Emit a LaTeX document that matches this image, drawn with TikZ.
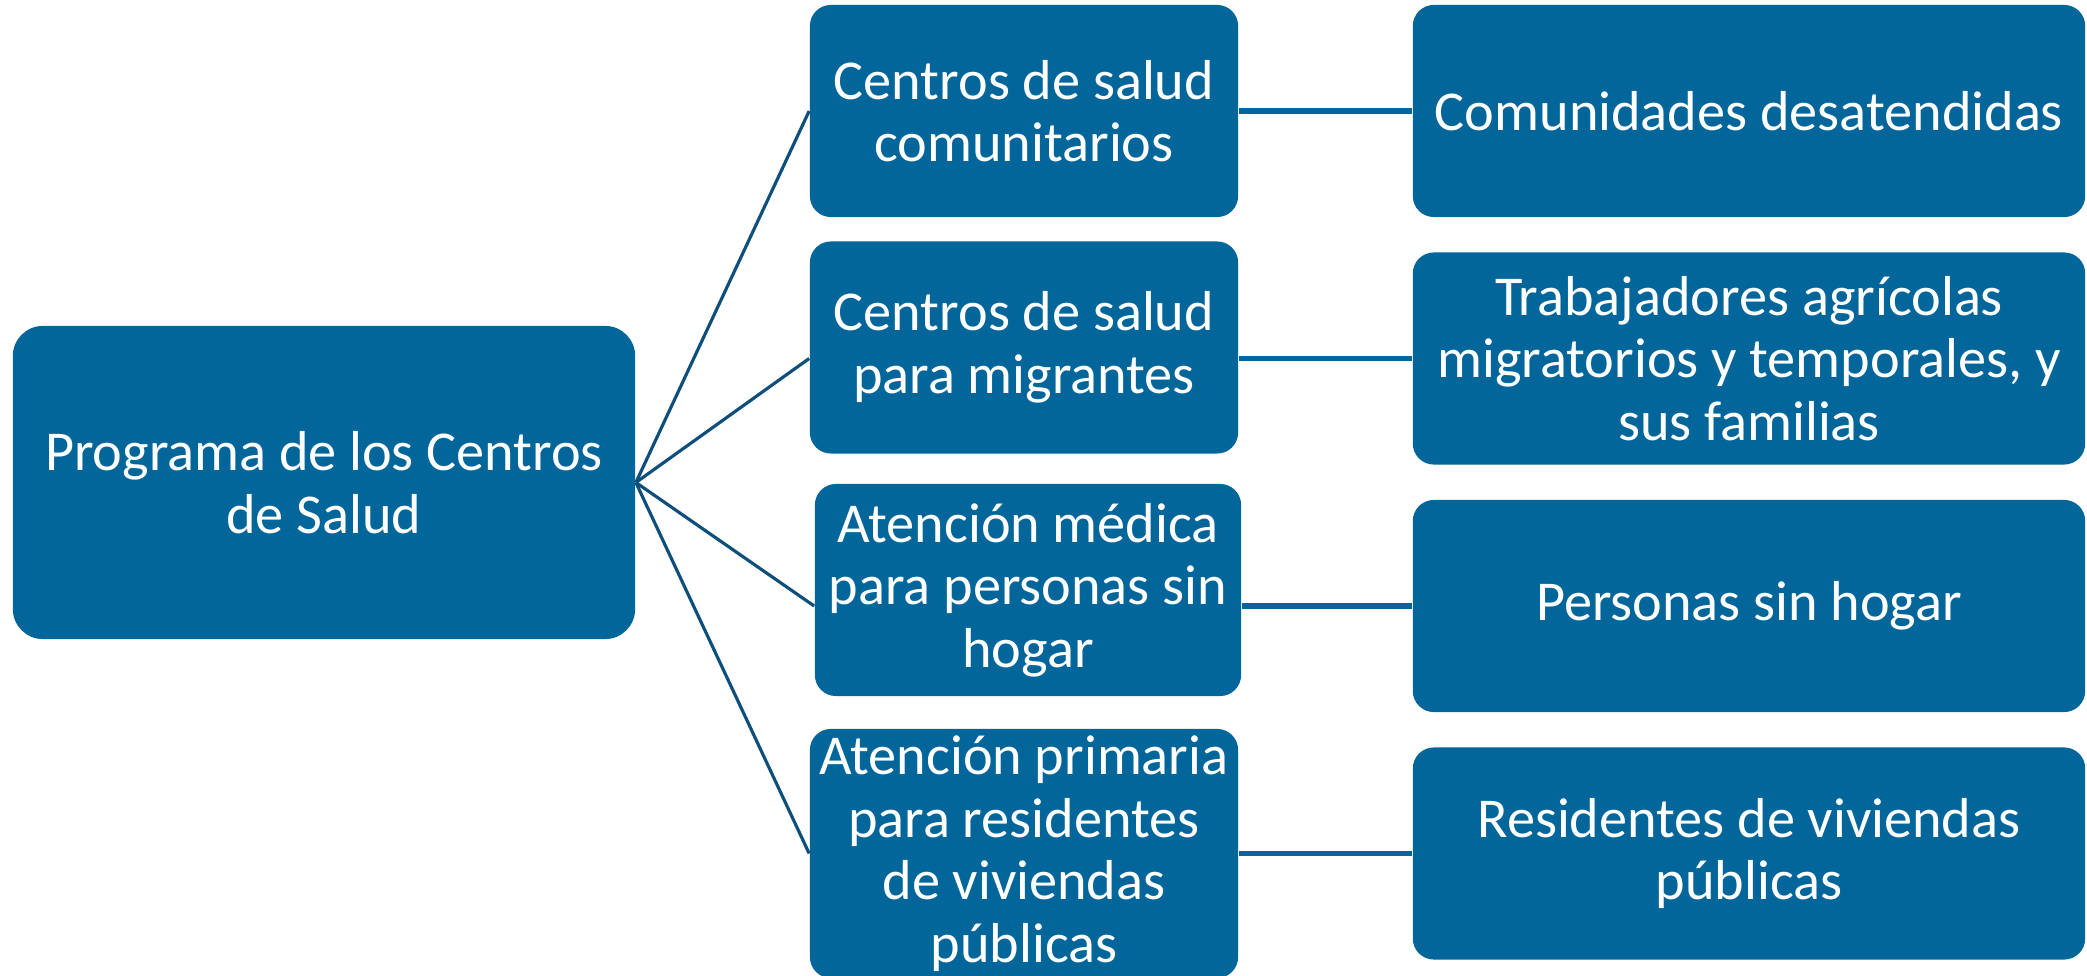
\documentclass[tikz,border=0pt]{standalone}
\usepackage{fontspec}
\setmainfont{Carlito}
\definecolor{boxblue}{RGB}{2,102,154}
\definecolor{linkblue}{RGB}{14,78,122}

\begin{document}
\begin{tikzpicture}
[x=0.01cm,y=-0.01cm,%
  box/.style={shape=rectangle,fill=boxblue,text=white,align=center,
    font=\fontsize{16pt}{17.8pt}\selectfont,inner sep=0pt,rounded corners=0.21cm},%
  midbox/.style={box,minimum width=4.28cm,minimum height=2.12cm},%
  endbox/.style={box,minimum width=6.72cm,minimum height=2.12cm},%
  link/.style={draw=linkblue,line width=0.9pt},%
  pair/.style={draw=boxblue,line width=1.5pt}]
\useasboundingbox (0,0) rectangle (2087,976);
\node[box,minimum width=6.22cm,minimum height=3.13cm,rounded corners=0.3cm] (root) at (324,482.5) {Programa de los Centros\\de Salud};
\node[midbox] (cs1) at (1024,111) {Centros de salud\\comunitarios};
\node[midbox] (cs2) at (1024,347.5) {Centros de salud\\para migrantes};
\node[midbox,minimum width=4.26cm] (cs3) at (1028,590) {Atención médica\\para personas sin\\hogar};
\node[midbox,minimum height=2.49cm] (cs4) at (1024,853.5) {Atención primaria\\para residentes\\de viviendas\\públicas};
\node[endbox] (gp1) at (1749,111) {Comunidades desatendidas};
\node[endbox] (gp2) at (1749,358.5) {Trabajadores agrícolas\\migratorios y temporales, y\\sus familias};
\node[endbox] (gp3) at (1749,606) {Personas sin hogar};
\node[endbox] (gp4) at (1749,853.5) {Residentes de viviendas\\públicas};
\foreach \i in {1,...,4} {
  \draw[link] (root.east) -- (cs\i.west |- gp\i.west);
  \draw[pair] (cs\i.east |- gp\i.west) -- (gp\i.west);
}
\end{tikzpicture}
\end{document}
